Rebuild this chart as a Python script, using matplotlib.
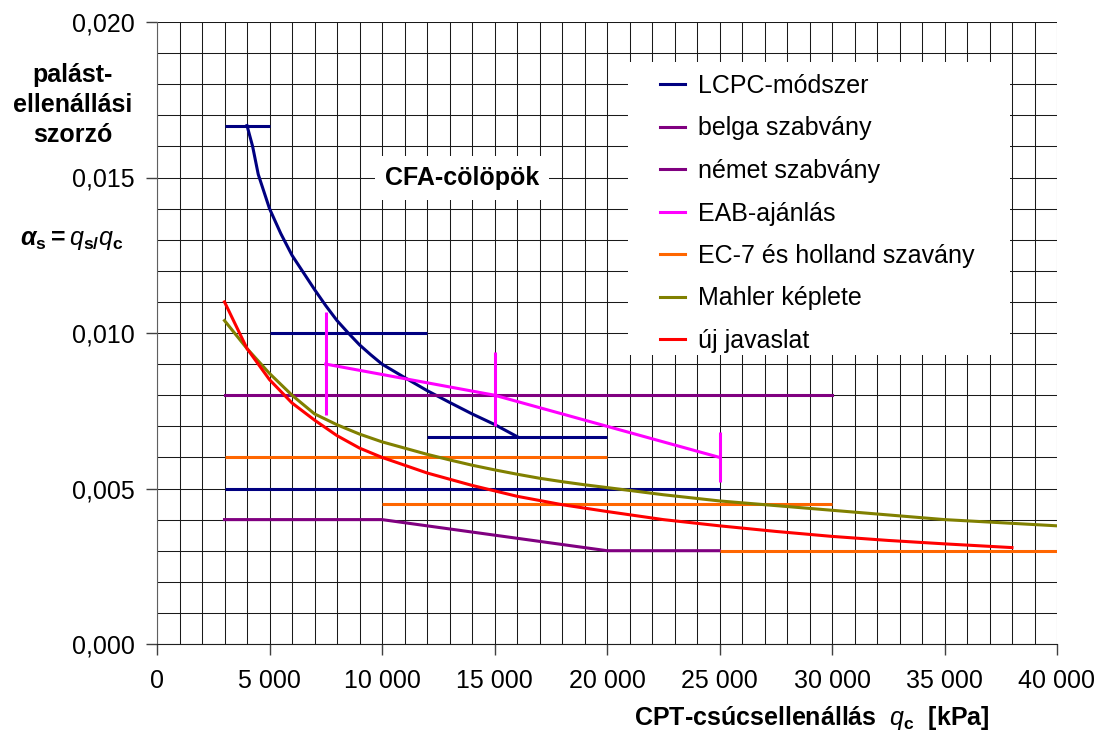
import matplotlib
matplotlib.use("Agg")
import matplotlib.pyplot as plt
from matplotlib.patches import Rectangle
from matplotlib.ticker import MultipleLocator, FuncFormatter

plt.rcParams["font.family"] = ["Liberation Sans", "DejaVu Sans"]
plt.rcParams["mathtext.fontset"] = "custom"
plt.rcParams["mathtext.rm"] = "Liberation Sans"
plt.rcParams["mathtext.it"] = "Liberation Sans:italic"
plt.rcParams["mathtext.bf"] = "Liberation Sans:bold"
plt.rcParams["mathtext.bfit"] = "Liberation Sans:italic:bold"

FS = 18

# ── data ──────────────────────────────────────────────────────────────────────
# LCPC-módszer: curve + horizontal bars
lcpc_x = [4000, 4250, 4500, 5000, 5500, 6000, 6500, 7000, 7500, 8000, 8500,
          9000, 9500, 10000, 11000, 12000, 13000, 14000, 15000, 16000]
lcpc_y = [0.01667, 0.0160, 0.0151, 0.0140, 0.0132, 0.0125, 0.01195, 0.0114,
          0.01088, 0.0104, 0.0100, 0.00962, 0.0093, 0.0090, 0.00857, 0.00815,
          0.00777, 0.0074, 0.00706, 0.00667]
lcpc_bar_x0 = [3000, 5000, 12000, 3000]
lcpc_bar_x1 = [5000, 12000, 20000, 25000]
lcpc_bar_y = [0.01667, 0.010, 0.00667, 0.005]

# belga szabvány
belga_x = [3000, 30000]
belga_y = [0.008, 0.008]

# német szabvány
nemet_x = [3000, 10000, 20000, 25000]
nemet_y = [0.004, 0.004, 0.003, 0.003]

# EAB-ajánlás: line + vertical range bars
eab_x = [7500, 15000, 25000]
eab_y = [0.009, 0.008, 0.006]
eab_bar_lo = [0.00736, 0.0070, 0.00521]
eab_bar_hi = [0.01068, 0.00938, 0.00682]

# EC-7 és holland szabvány: horizontal bars
ec7_x0 = [3000, 10000, 25000]
ec7_x1 = [20000, 30000, 40000]
ec7_y = [0.006, 0.0045, 0.003]

# Mahler képlete
mahler_x = [3000, 4000, 5000, 6000, 7000, 8000, 9000, 10000, 11000, 12000,
            13000, 14000, 15000, 16000, 17000, 18000, 19000, 20000, 22500,
            25000, 27500, 30000, 32500, 35000, 37500, 40000]
mahler_y = [0.0104, 0.0095, 0.0087, 0.0080, 0.0074, 0.00705, 0.00675, 0.0065,
            0.0063, 0.0061, 0.00592, 0.00575, 0.0056, 0.00546, 0.00533,
            0.00522, 0.00512, 0.00503, 0.0048, 0.0046, 0.00445, 0.0043,
            0.00415, 0.0040, 0.0039, 0.0038]

# új javaslat
uj_x = [3000, 4000, 5000, 6000, 7000, 8000, 9000, 10000, 12000, 14000, 16000,
        18000, 20000, 22500, 25000, 27500, 30000, 32500, 35000, 38000]
uj_y = [0.0110, 0.0095, 0.0085, 0.00775, 0.0072, 0.0067, 0.0063, 0.0060,
        0.0055, 0.0051, 0.00475, 0.00448, 0.00426, 0.0040, 0.0038, 0.00362,
        0.00346, 0.00333, 0.00322, 0.0031]

C_LCPC = "#000080"
C_PURPLE = "#800080"
C_EAB = "#FF00FF"
C_EC7 = "#FF6600"
C_MAHLER = "#808000"
C_UJ = "#FF0000"
LW = 2.2

fig = plt.figure(figsize=(11, 7.42), dpi=100)
ax = fig.add_axes([157 / 1100, 1 - 644 / 742, 900 / 1100, 622 / 742])

# LCPC
ax.plot(lcpc_x, lcpc_y, color=C_LCPC, lw=LW, label="LCPC-módszer")
ax.hlines(lcpc_bar_y, lcpc_bar_x0, lcpc_bar_x1, color=C_LCPC, lw=LW)
# belga
ax.plot(belga_x, belga_y, color=C_PURPLE, lw=LW, label="belga szabvány")
# német
ax.plot(nemet_x, nemet_y, color=C_PURPLE, lw=LW, label="német szabvány")
# EAB
ax.plot(eab_x, eab_y, color=C_EAB, lw=LW, label="EAB-ajánlás")
ax.vlines(eab_x, eab_bar_lo, eab_bar_hi, color=C_EAB, lw=LW)
# EC-7
ax.hlines(ec7_y, ec7_x0, ec7_x1, color=C_EC7, lw=LW)
ax.plot([], [], color=C_EC7, lw=LW, label="EC-7 és holland szavány")
# Mahler
ax.plot(mahler_x, mahler_y, color=C_MAHLER, lw=LW, label="Mahler képlete")
# új
ax.plot(uj_x, uj_y, color=C_UJ, lw=LW, label="új javaslat")

ax.set_xlim(0, 40000)
ax.set_ylim(0, 0.020)
ax.xaxis.set_major_locator(MultipleLocator(5000))
ax.xaxis.set_minor_locator(MultipleLocator(1000))
ax.yaxis.set_major_locator(MultipleLocator(0.005))
ax.yaxis.set_minor_locator(MultipleLocator(0.001))
ax.xaxis.set_major_formatter(FuncFormatter(lambda v, p: f"{int(v):,}".replace(",", " ")))
ax.yaxis.set_major_formatter(FuncFormatter(lambda v, p: f"{v:.3f}".replace(".", ",")))
ax.grid(True, which="both", color="#1a1a1a", lw=0.75)
ax.set_axisbelow(True)
ax.tick_params(which="major", direction="out", length=8, width=1, color="#404040",
               labelsize=FS)
ax.tick_params(axis="x", pad=10)
ax.tick_params(axis="y", pad=8)
ax.tick_params(which="minor", length=0)
for s in ["top", "right"]:
    ax.spines[s].set_visible(False)
ax.spines["left"].set_color("#606060")
ax.spines["bottom"].set_color("#202020")

# white legend panel
ax.add_patch(Rectangle(((628 - 157) / 900, (644 - 355) / 622),
                       (1010 - 628) / 900, (355 - 62) / 622,
                       transform=ax.transAxes, fc="white", ec="none", zorder=1.5))
leg = ax.legend(loc="upper left", bbox_to_anchor=((660 - 157) / 900, (644 - 74) / 622),
                borderaxespad=0, borderpad=0, fontsize=FS, frameon=False,
                handlelength=1.0, handletextpad=0.5, labelspacing=0.74)

ax.text(13556, 0.01497, "CFA-cölöpök", fontsize=FS, fontweight="bold",
        ha="center", va="center",
        bbox=dict(boxstyle="square,pad=0.4", fc="white", ec="none"))

fig.text(73 / 1100, 1 - 105 / 742, "palást-\nellenállási\nszorzó", fontsize=FS,
         fontweight="bold", ha="center", va="center", linespacing=1.3)
fig.text(72 / 1100, 1 - 240 / 742,
         r"$\mathbfit{\alpha}_{\mathbf{s}}\mathbf{=}\mathit{q}_{\mathbf{s/}}\mathit{q}_{\mathbf{c}}$",
         fontsize=FS, ha="center", va="center")
fig.text(812 / 1100, 1 - 718 / 742,
         r"CPT-csúcsellenállás  $\mathit{q}_{\mathbf{c}}$  [kPa]",
         fontsize=FS, fontweight="bold", ha="center", va="center")

fig.savefig("out.png", dpi=100)
